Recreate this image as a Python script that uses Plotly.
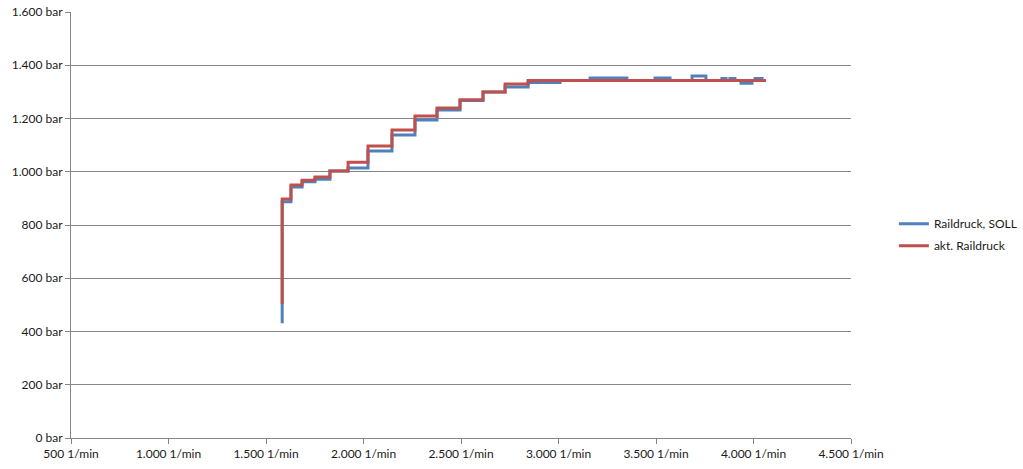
import plotly.graph_objects as go

# Drehzahl (1/min) und Raildruck (bar), stufenförmig
soll_rpm = [1583, 1583, 1628, 1685, 1751, 1828, 1921, 2023, 2146, 2264, 2377, 2495, 2613, 2726, 2844,
            3008, 3162, 3351, 3495, 3572, 3685, 3756, 3838, 3859, 3879, 3905, 3936, 3992, 4008, 4044, 4064]
soll_bar = [431, 887, 943, 962, 972, 1003, 1014, 1078, 1138, 1194, 1232, 1268, 1300, 1318, 1335,
            1343, 1352, 1343, 1352, 1343, 1360, 1343, 1350, 1343, 1350, 1343, 1332, 1343, 1350, 1343, 1343]

ist_rpm = [1583, 1583, 1628, 1685, 1751, 1828, 1921, 2023, 2146, 2264, 2377, 2495, 2613, 2726, 2844, 4064]
ist_bar = [503, 898, 950, 968, 980, 1003, 1036, 1097, 1157, 1209, 1239, 1270, 1300, 1330, 1343, 1343]

x_ticks = [500, 1000, 1500, 2000, 2500, 3000, 3500, 4000, 4500]
x_labels = ["500 1/min", "1.000 1/min", "1.500 1/min", "2.000 1/min", "2.500 1/min",
            "3.000 1/min", "3.500 1/min", "4.000 1/min", "4.500 1/min"]
y_ticks = [0, 200, 400, 600, 800, 1000, 1200, 1400, 1600]
y_labels = ["0 bar", "200 bar", "400 bar", "600 bar", "800 bar", "1.000 bar",
            "1.200 bar", "1.400 bar", "1.600 bar"]

fig = go.Figure()
fig.add_trace(go.Scatter(x=soll_rpm, y=soll_bar, mode="lines", name="Raildruck, SOLL",
                         legendgroup="soll",
                         line=dict(color="#4F81BD", width=3, shape="hv")))
fig.add_trace(go.Scatter(x=ist_rpm, y=ist_bar, mode="lines", name="akt. Raildruck",
                         legendgroup="ist",
                         line=dict(color="#C0504D", width=3, shape="hv")))

fig.update_layout(
    width=1023, height=469,
    margin=dict(l=71, r=172, t=12, b=31, autoexpand=False),
    paper_bgcolor="white", plot_bgcolor="white",
    font=dict(family="Lato, Open Sans, sans-serif", size=12, color="#1a1a1a"),
    showlegend=True,
    legend=dict(x=1.055, y=0.477, xanchor="left", yanchor="middle",
                font=dict(size=12), tracegroupgap=3, itemwidth=30,
                traceorder="grouped"),
    xaxis=dict(range=[500, 4500], tickvals=x_ticks, ticktext=x_labels, automargin=False,
               showgrid=False, zeroline=False, showline=True, linecolor="#868686", linewidth=1,
               ticks="outside", ticklen=5, tickcolor="#868686"),
    yaxis=dict(range=[0, 1600], tickvals=y_ticks, ticktext=y_labels, automargin=False,
               showgrid=True, gridcolor="#868686", gridwidth=1, zeroline=False,
               showline=True, linecolor="#868686", linewidth=1,
               ticks="outside", ticklen=5, tickcolor="#868686"),
)

fig.write_html("out.html", config={"displayModeBar": False},
               post_script="document.body.style.margin='0';")
